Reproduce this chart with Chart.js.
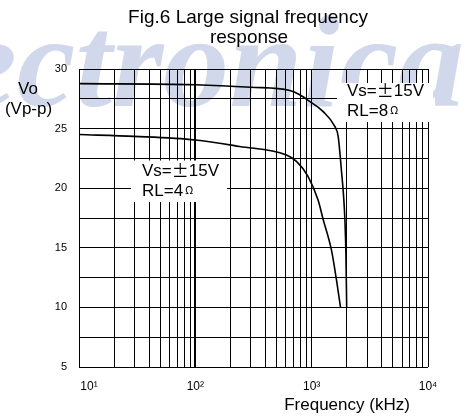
<!DOCTYPE html>
<html><head><meta charset="utf-8">
<script src="https://cdn.jsdelivr.net/npm/chart.js@4"></script>
<style>html,body{margin:0;padding:0;background:#fff;}#wrap{width:474px;height:417px;}</style>
</head><body><div id="wrap"><canvas id="c" width="474" height="417"></canvas></div>
<script>
// RL = 8 ohm curve (frequency in kHz, Vo in Vp-p)
const freq8 = [10, 100, 300, 650, 790, 960, 1250, 1580, 1690, 1800, 1890, 1930, 1970, 2000];
const vo8   = [28.77, 28.68, 28.47, 28.2, 27.84, 27.28, 26.44, 25.18, 24.35, 21.55, 19.03, 17.36, 14.5, 10];
// RL = 4 ohm curve
const freq4 = [10, 30, 100, 240, 600, 740, 930, 1135, 1254, 1480, 1634, 1770];
const vo4   = [24.5, 24.35, 24.05, 23.5, 22.8, 22.25, 21.0, 19.0, 17.4, 14.8, 12.3, 10];
// axis ticks
const xTicks = [10,20,30,40,50,60,70,80,90,100,200,300,400,500,600,700,800,900,
                1000,2000,3000,4000,5000,6000,7000,8000,9000,10000];
const xTickLabels = {10:'      10\u00b9', 100:'10\u00b2', 1000:'10\u00b3', 10000:'10\u2074'};
const yTickLabels = [5, 10, 15, 20, 25, 30];

const SANS = "'Liberation Sans', Arial, sans-serif";
const CJK = "'Noto Sans CJK JP', 'Liberation Sans', sans-serif";

function drawCond(ctx, x, y, rl) {
  ctx.textBaseline = 'middle';
  ctx.textAlign = 'left';
  ctx.fillStyle = '#000';
  let cx = x;
  ctx.font = '17px ' + SANS;
  ctx.fillText('Vs=', cx, y); cx += ctx.measureText('Vs=').width;
  ctx.font = '17px ' + CJK;
  ctx.fillText('\u00b1', cx, y); cx += 17;
  ctx.font = '17px ' + SANS;
  ctx.fillText('15V', cx, y);
  const y2 = y + 20;
  cx = x;
  ctx.fillText('RL=' + rl, cx, y2); cx += ctx.measureText('RL=' + rl).width + 2;
  ctx.font = '11px ' + CJK;
  ctx.fillText('\u03a9', cx, y2 - 1);
}

const decor = {
  id: 'decor',
  beforeDraw(chart) {
    const ctx = chart.ctx;
    ctx.save();
    ctx.fillStyle = '#fff';
    ctx.fillRect(0, 0, chart.width, chart.height);
    ctx.fillStyle = 'rgb(210,216,235)';
    ctx.font = "italic bold 132px 'Liberation Serif', serif";
    ctx.textAlign = 'right';
    ctx.textBaseline = 'alphabetic';
    ctx.fillText('Electronica', 464, 106);
    ctx.restore();
  },
  beforeDatasetsDraw(chart) {
    const ctx = chart.ctx;
    ctx.save();
    ctx.fillStyle = '#fff';
    ctx.fillRect(337, 83, 96, 39);
    ctx.fillRect(131, 160.5, 96, 41.5);
    ctx.restore();
  },
  afterDatasetsDraw(chart) {
    const ctx = chart.ctx;
    ctx.save();
    ctx.fillStyle = '#000';
    ctx.textAlign = 'center';
    ctx.textBaseline = 'middle';
    ctx.font = '19px ' + SANS;
    ctx.fillText('Fig.6 Large signal frequency', 248, 18);
    ctx.fillText('response', 249, 38);
    ctx.font = '17px ' + SANS;
    ctx.fillText('Vo', 28, 89);
    ctx.fillText('(Vp-p)', 28.5, 109);
    ctx.fillText('Frequency (kHz)', 347, 405);
    drawCond(ctx, 347, 91, '8');
    drawCond(ctx, 142, 171, '4');
    ctx.restore();
  }
};

new Chart(document.getElementById('c'), {
  type: 'line',
  data: {
    datasets: [
      { label: 'RL=8', data: freq8.map((f, i) => ({x: f, y: vo8[i]})),
        borderColor: '#000', borderWidth: 1.6, pointRadius: 0, cubicInterpolationMode: 'monotone', fill: false },
      { label: 'RL=4', data: freq4.map((f, i) => ({x: f, y: vo4[i]})),
        borderColor: '#000', borderWidth: 1.6, pointRadius: 0, cubicInterpolationMode: 'monotone', fill: false }
    ]
  },
  options: {
    responsive: false,
    animation: false,
    devicePixelRatio: 1,
    layout: { padding: { left: 0, top: 69, right: 46, bottom: 0 } },
    plugins: { legend: { display: false }, tooltip: { enabled: false }, title: { display: false } },
    scales: {
      x: {
        type: 'logarithmic', min: 10, max: 10000,
        afterBuildTicks: s => { s.ticks = xTicks.map(v => ({ value: v })); },
        afterFit: s => { s.height = 50; },
        grid: { color: '#000', lineWidth: c => (c.tick && c.tick.value === 100) ? 2 : 1, drawTicks: false },
        border: { display: false },
        ticks: {
          autoSkip: false, maxRotation: 0, minRotation: 0, padding: 12, color: '#000',
          font: { family: SANS, size: 12 },
          callback: v => xTickLabels[v] !== undefined ? xTickLabels[v] : ''
        }
      },
      y: {
        type: 'linear', min: 5, max: 30,
        afterFit: s => { s.width = 79; },
        grid: { color: '#000', lineWidth: 1, drawTicks: false },
        border: { display: false },
        ticks: {
          stepSize: 2.5, padding: 12, color: '#000',
          font: { family: SANS, size: 11 },
          callback: v => yTickLabels.includes(v) ? String(v) : ''
        }
      }
    }
  },
  plugins: [decor]
});
</script>
</body></html>
